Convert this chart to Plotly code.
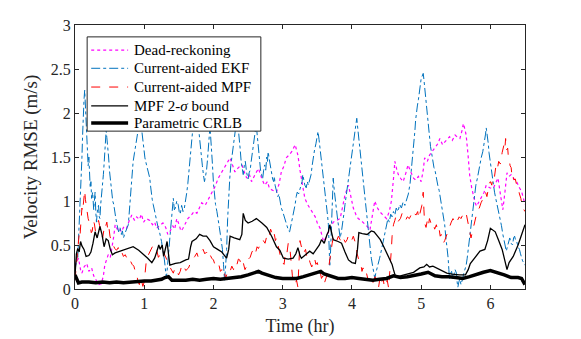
import plotly.graph_objects as go

# Dead-reckoning (magenta, dotted)
t_dr = [0, 0.03, 0.05, 0.08, 0.1, 0.13, 0.17, 0.2, 0.24, 0.27, 0.31, 0.34, 0.38, 0.41, 0.43, 0.46, 0.48, 0.51, 0.53, 0.56,
        0.58, 0.61, 0.63, 0.67, 0.7, 0.74, 0.77, 0.8, 0.82, 0.86, 0.89, 0.93, 0.96, 0.99, 1.03, 1.08, 1.12, 1.15, 1.18, 1.22,
        1.27, 1.31, 1.34, 1.37, 1.41, 1.44, 1.47, 1.5, 1.53, 1.56, 1.59, 1.63, 1.68, 1.72, 1.76, 1.8, 1.83, 1.88, 1.93, 1.98,
        2.02, 2.07, 2.12, 2.17, 2.21, 2.24, 2.28, 2.31, 2.36, 2.41, 2.45, 2.48, 2.52, 2.55, 2.6, 2.65, 2.7, 2.74, 2.78, 2.81,
        2.86, 2.91, 2.95, 2.98, 3.02, 3.05, 3.09, 3.13, 3.18, 3.22, 3.25, 3.29, 3.32, 3.36, 3.39, 3.43, 3.47, 3.5, 3.54, 3.57,
        3.59, 3.62, 3.66, 3.7, 3.73, 3.78, 3.83, 3.87, 3.9, 3.95, 3.98, 4.02, 4.06, 4.09, 4.13, 4.16, 4.21, 4.26, 4.3, 4.33,
        4.37, 4.4, 4.45, 4.5, 4.54, 4.57, 4.6, 4.62, 4.65, 4.67, 4.71, 4.74, 4.78, 4.81, 4.85, 4.89, 4.92, 4.96, 5.0, 5.03,
        5.05, 5.09, 5.12, 5.16, 5.2, 5.24, 5.27, 5.31, 5.34, 5.38, 5.41, 5.45, 5.49, 5.53, 5.56, 5.59, 5.61, 5.63, 5.65, 5.68,
        5.7, 5.73, 5.75, 5.78, 5.8, 5.84, 5.87, 5.91, 5.94, 5.99, 6.04, 6.08, 6.11, 6.15, 6.18, 6.21, 6.24, 6.27, 6.3, 6.34,
        6.38, 6.42, 6.45, 6.48, 6.5]
v_dr = [0.26, 0.32, 0.35, 0.22, 0.18, 0.25, 0.29, 0.20, 0.24, 0.15, 0.10, 0.05, 0.06, 0.15, 0.27, 0.33, 0.39, 0.36, 0.45, 0.60,
        0.73, 0.68, 0.70, 0.65, 0.70, 0.68, 0.75, 0.80, 0.84, 0.78, 0.82, 0.79, 0.85, 0.76, 0.80, 0.78, 0.73, 0.76, 0.69, 0.72,
        0.75, 0.70, 0.62, 0.65, 0.72, 0.68, 0.80, 0.74, 0.66, 0.69, 0.73, 0.80, 0.84, 0.88, 0.86, 0.94, 0.98, 0.95, 1.03, 1.10,
        1.16, 1.26, 1.33, 1.41, 1.45, 1.49, 1.40, 1.33, 1.38, 1.41, 1.32, 1.26, 1.30, 1.22, 1.30, 1.37, 1.25, 1.18, 1.22, 1.14,
        1.12, 1.10, 1.20, 1.33, 1.40, 1.49, 1.52, 1.56, 1.64, 1.52, 1.35, 1.18, 1.03, 0.96, 0.92, 0.86, 0.82, 0.75, 0.69, 0.60,
        0.54, 0.58, 0.65, 0.72, 0.76, 0.78, 0.80, 0.95, 1.07, 1.18, 1.05, 0.92, 0.84, 0.80, 0.78, 0.76, 0.72, 0.67, 0.85, 1.00,
        0.92, 0.88, 0.84, 0.80, 0.88, 1.00, 1.25, 1.45, 1.35, 1.30, 1.25, 1.22, 1.32, 1.41, 1.33, 1.26, 1.24, 1.28, 1.22, 1.35,
        1.49, 1.45, 1.52, 1.56, 1.60, 1.65, 1.71, 1.64, 1.67, 1.70, 1.73, 1.69, 1.75, 1.72, 1.71, 1.80, 1.88, 1.82, 1.75, 1.50,
        1.30, 1.15, 1.07, 0.98, 0.94, 1.00, 1.03, 1.10, 1.18, 1.15, 1.14, 1.20, 1.26, 1.05, 0.90, 1.10, 1.32, 1.28, 1.30, 1.25,
        1.22, 1.15, 1.11, 1.02, 0.96]

# Current-aided EKF (blue, dash-dot)
t_ekf = [0, 0.02, 0.03, 0.04, 0.05, 0.065, 0.08, 0.09, 0.1, 0.11, 0.12, 0.13, 0.14, 0.15, 0.16, 0.175, 0.19, 0.2, 0.21, 0.22,
         0.23, 0.24, 0.255, 0.27, 0.28, 0.29, 0.3, 0.31, 0.325, 0.34, 0.35, 0.36, 0.37, 0.38, 0.395, 0.41, 0.42, 0.43, 0.44, 0.45,
         0.46, 0.47, 0.485, 0.5, 0.515, 0.53, 0.545, 0.56, 0.575, 0.59, 0.61, 0.63, 0.65, 0.67, 0.685, 0.7, 0.72, 0.74, 0.755, 0.77,
         0.785, 0.8, 0.81, 0.82, 0.84, 0.86, 0.875, 0.89, 0.905, 0.92, 0.935, 0.95, 0.965, 0.98, 0.995, 1.01, 1.03, 1.05, 1.065, 1.08,
         1.09, 1.1, 1.115, 1.13, 1.145, 1.16, 1.17, 1.18, 1.2, 1.22, 1.235, 1.25, 1.265, 1.28, 1.29, 1.3, 1.31, 1.32, 1.335, 1.35,
         1.36, 1.37, 1.385, 1.4, 1.41, 1.42, 1.435, 1.45, 1.47, 1.49, 1.505, 1.52, 1.54, 1.56, 1.58, 1.6, 1.615, 1.63, 1.645, 1.66,
         1.675, 1.69, 1.705, 1.72, 1.735, 1.75, 1.765, 1.78, 1.795, 1.81, 1.825, 1.84, 1.855, 1.87, 1.885, 1.9, 1.915, 1.93, 1.94, 1.95,
         1.96, 1.97, 1.985, 2.0, 2.015, 2.03, 2.05, 2.07, 2.085, 2.1, 2.115, 2.13, 2.145, 2.16, 2.175, 2.19, 2.205, 2.22, 2.235, 2.25,
         2.265, 2.28, 2.295, 2.31, 2.325, 2.34, 2.355, 2.37, 2.385, 2.4, 2.415, 2.43, 2.445, 2.46, 2.48, 2.5, 2.515, 2.53, 2.545, 2.56,
         2.575, 2.59, 2.605, 2.62, 2.635, 2.65, 2.665, 2.68, 2.695, 2.71, 2.725, 2.74, 2.755, 2.77, 2.78, 2.79, 2.805, 2.82, 2.83, 2.84,
         2.855, 2.87, 2.88, 2.89, 2.91, 2.93, 2.945, 2.96, 2.98, 3.0, 3.015, 3.03, 3.05, 3.07, 3.085, 3.1, 3.12, 3.14, 3.16, 3.18,
         3.195, 3.21, 3.23, 3.25, 3.265, 3.28, 3.29, 3.3, 3.32, 3.34, 3.355, 3.37, 3.39, 3.41, 3.425, 3.44, 3.46, 3.48, 3.495, 3.51,
         3.525, 3.54, 3.55, 3.56, 3.575, 3.59, 3.6, 3.61, 3.625, 3.64, 3.65, 3.66, 3.67, 3.68, 3.69, 3.7, 3.715, 3.73, 3.745, 3.76,
         3.77, 3.78, 3.795, 3.81, 3.82, 3.83, 3.85, 3.87, 3.885, 3.9, 3.92, 3.94, 3.955, 3.97, 3.985, 4.0, 4.01, 4.02, 4.035, 4.05,
         4.06, 4.07, 4.085, 4.1, 4.12, 4.14, 4.155, 4.17, 4.19, 4.21, 4.225, 4.24, 4.26, 4.28, 4.295, 4.31, 4.32, 4.33, 4.345, 4.36,
         4.38, 4.4, 4.42, 4.44, 4.46, 4.48, 4.5, 4.52, 4.54, 4.56, 4.58, 4.6, 4.62, 4.64, 4.665, 4.69, 4.715, 4.74, 4.765, 4.79,
         4.815, 4.84, 4.86, 4.88, 4.895, 4.91, 4.92, 4.93, 4.945, 4.96, 4.97, 4.98, 4.99, 5.0, 5.015, 5.03, 5.04, 5.05, 5.065, 5.08,
         5.09, 5.1, 5.11, 5.12, 5.135, 5.15, 5.16, 5.17, 5.185, 5.2, 5.21, 5.22, 5.24, 5.26, 5.275, 5.29, 5.305, 5.32, 5.33, 5.34,
         5.355, 5.37, 5.38, 5.39, 5.4, 5.41, 5.425, 5.44, 5.455, 5.47, 5.49, 5.51, 5.52, 5.53, 5.545, 5.56, 5.575, 5.59, 5.6, 5.61,
         5.63, 5.65, 5.665, 5.68, 5.69, 5.7, 5.72, 5.74, 5.755, 5.77, 5.79, 5.81, 5.83, 5.85, 5.87, 5.89, 5.905, 5.92, 5.93, 5.94,
         5.955, 5.97, 5.98, 5.99, 6.01, 6.03, 6.045, 6.06, 6.08, 6.1, 6.12, 6.14, 6.16, 6.18, 6.195, 6.21, 6.22, 6.23, 6.245, 6.26,
         6.27, 6.28, 6.3, 6.32, 6.335, 6.35, 6.365, 6.38, 6.4, 6.42, 6.435, 6.45, 6.465, 6.48, 6.5]
v_ekf = [0.20, 0.32, 0.40, 0.36, 0.54, 0.75, 1.00, 1.25, 1.49, 1.75, 2.05, 2.15, 2.26, 2.10, 1.90, 1.60, 1.40, 1.50, 1.25, 1.15,
         1.22, 1.03, 1.10, 0.90, 1.00, 1.10, 0.88, 0.76, 0.90, 0.95, 0.82, 0.80, 0.95, 1.07, 1.15, 1.30, 1.42, 1.55, 1.68, 1.80,
         1.72, 1.65, 1.50, 1.33, 1.20, 1.10, 1.00, 0.96, 0.86, 0.80, 0.72, 0.65, 0.70, 0.62, 0.66, 0.58, 0.63, 0.66, 0.70, 0.73,
         0.88, 1.05, 1.20, 1.33, 1.45, 1.55, 1.62, 1.68, 1.78, 1.85, 1.92, 1.90, 1.80, 1.70, 1.58, 1.49, 1.42, 1.35, 1.30, 1.26,
         1.18, 1.10, 1.02, 0.96, 0.90, 0.85, 0.80, 0.76, 0.70, 0.65, 0.60, 0.54, 0.46, 0.40, 0.34, 0.27, 0.20, 0.12, 0.25, 0.35,
         0.48, 0.58, 0.72, 0.85, 0.95, 1.03, 0.90, 0.92, 1.00, 0.96, 0.88, 0.85, 0.95, 0.88, 0.92, 1.00, 1.10, 1.20, 1.35, 1.50,
         1.62, 1.75, 1.85, 1.95, 2.00, 2.05, 1.98, 1.90, 1.75, 1.60, 1.50, 1.40, 1.30, 1.22, 1.28, 1.35, 1.48, 1.60, 1.75, 1.85,
         1.75, 1.65, 1.42, 1.20, 1.05, 0.96, 0.88, 0.80, 0.70, 0.62, 0.55, 0.45, 0.28, 0.10, 0.25, 0.45, 0.80, 1.10, 1.25, 1.40,
         1.50, 1.60, 1.70, 1.80, 1.88, 1.95, 1.85, 1.75, 1.60, 1.45, 1.38, 1.30, 1.40, 1.45, 1.32, 1.25, 1.32, 1.35, 1.45, 1.55,
         1.66, 1.75, 1.80, 1.85, 1.72, 1.60, 1.48, 1.35, 1.30, 1.25, 1.35, 1.41, 1.35, 1.50, 1.45, 1.56, 1.48, 1.40, 1.36, 1.33,
         1.25, 1.22, 1.28, 1.18, 1.10, 1.05, 1.08, 1.00, 0.92, 0.88, 0.84, 0.80, 0.74, 0.70, 0.66, 0.65, 0.72, 0.80, 0.88, 0.96,
         1.05, 1.10, 1.08, 1.14, 1.20, 1.22, 1.30, 1.26, 1.18, 1.15, 1.22, 1.18, 1.25, 1.30, 1.40, 1.49, 1.58, 1.65, 1.72, 1.79,
         1.70, 1.60, 1.55, 1.49, 1.38, 1.25, 1.18, 1.10, 1.00, 0.90, 0.82, 0.73, 0.50, 0.27, 0.40, 0.60, 0.95, 1.26, 1.12, 1.00,
         0.94, 0.88, 0.78, 0.70, 0.64, 0.58, 0.66, 0.75, 0.86, 0.96, 1.08, 1.20, 1.28, 1.37, 1.46, 1.55, 1.60, 1.64, 1.72, 1.80,
         1.88, 1.94, 1.82, 1.70, 1.55, 1.41, 1.28, 1.15, 1.02, 0.88, 0.76, 0.65, 0.50, 0.35, 0.28, 0.20, 0.15, 0.12, 0.18, 0.22,
         0.28, 0.35, 0.42, 0.50, 0.58, 0.65, 0.72, 0.80, 0.76, 0.85, 0.82, 0.88, 0.84, 0.92, 0.88, 0.96, 0.92, 0.99, 0.95, 1.03,
         1.08, 1.20, 1.35, 1.50, 1.65, 1.80, 1.92, 2.02, 2.08, 2.15, 2.22, 2.30, 2.35, 2.39, 2.42, 2.45, 2.38, 2.30, 2.15, 2.02,
         1.92, 1.85, 1.78, 1.75, 1.62, 1.55, 1.48, 1.41, 1.38, 1.35, 1.30, 1.26, 1.18, 1.12, 1.05, 1.00, 0.92, 0.85, 0.78, 0.73,
         0.60, 0.50, 0.42, 0.35, 0.22, 0.12, 0.18, 0.20, 0.12, 0.15, 0.22, 0.18, 0.08, 0.02, 0.08, 0.12, 0.05, 0.08, 0.12, 0.16,
         0.22, 0.27, 0.35, 0.45, 0.55, 0.65, 0.78, 0.90, 1.00, 1.10, 1.18, 1.25, 1.35, 1.41, 1.50, 1.56, 1.62, 1.70, 1.76, 1.83,
         1.75, 1.65, 1.55, 1.49, 1.40, 1.30, 1.20, 1.10, 1.02, 0.95, 0.88, 0.80, 0.72, 0.62, 0.55, 0.50, 0.45, 0.43, 0.48, 0.52,
         0.56, 0.58, 0.52, 0.50, 0.58, 0.60, 0.55, 0.54, 0.48, 0.45, 0.40, 0.35, 0.32, 0.30, 0.27]

# Current-aided MPF (red, dashed)
t_mpf = [0, 0.02, 0.03, 0.045, 0.06, 0.07, 0.08, 0.09, 0.1, 0.11, 0.12, 0.13, 0.14, 0.15, 0.16, 0.175, 0.19, 0.205, 0.22, 0.235,
         0.25, 0.265, 0.28, 0.295, 0.31, 0.325, 0.34, 0.355, 0.37, 0.385, 0.4, 0.415, 0.43, 0.445, 0.46, 0.475, 0.49, 0.505, 0.52, 0.535,
         0.55, 0.575, 0.6, 0.625, 0.65, 0.675, 0.7, 0.725, 0.75, 0.775, 0.8, 0.825, 0.85, 0.87, 0.89, 0.91, 0.93, 0.945, 0.96, 0.98,
         1.0, 1.015, 1.03, 1.055, 1.08, 1.105, 1.13, 1.155, 1.18, 1.205, 1.23, 1.255, 1.28, 1.3, 1.32, 1.345, 1.37, 1.395, 1.42, 1.445,
         1.47, 1.495, 1.52, 1.545, 1.57, 1.6, 1.64, 1.67, 1.7, 1.73, 1.76, 1.78, 1.8, 1.825, 1.85, 1.875, 1.9, 1.925, 1.95, 1.975,
         2.0, 2.02, 2.04, 2.06, 2.08, 2.1, 2.12, 2.14, 2.16, 2.175, 2.19, 2.215, 2.24, 2.265, 2.29, 2.315, 2.34, 2.36, 2.38, 2.405,
         2.43, 2.455, 2.48, 2.505, 2.53, 2.555, 2.58, 2.605, 2.63, 2.65, 2.67, 2.695, 2.72, 2.745, 2.77, 2.79, 2.81, 2.825, 2.84, 2.86,
         2.88, 2.895, 2.91, 2.93, 2.95, 2.965, 2.98, 3.0, 3.02, 3.04, 3.06, 3.08, 3.1, 3.12, 3.14, 3.16, 3.18, 3.2, 3.22, 3.235,
         3.25, 3.27, 3.29, 3.31, 3.33, 3.35, 3.37, 3.395, 3.42, 3.44, 3.46, 3.48, 3.5, 3.52, 3.54, 3.56, 3.58, 3.6, 3.62, 3.64,
         3.66, 3.68, 3.7, 3.715, 3.73, 3.755, 3.78, 3.805, 3.83, 3.855, 3.88, 3.905, 3.93, 3.95, 3.97, 3.995, 4.02, 4.04, 4.06, 4.075,
         4.09, 4.11, 4.13, 4.145, 4.16, 4.185, 4.21, 4.235, 4.26, 4.285, 4.31, 4.335, 4.36, 4.385, 4.41, 4.43, 4.45, 4.47, 4.49, 4.51,
         4.53, 4.545, 4.56, 4.57, 4.58, 4.6, 4.62, 4.64, 4.67, 4.7, 4.725, 4.75, 4.775, 4.8, 4.83, 4.86, 4.88, 4.9, 4.925, 4.95,
         4.965, 4.98, 4.995, 5.01, 5.02, 5.03, 5.04, 5.05, 5.07, 5.09, 5.105, 5.12, 5.145, 5.17, 5.195, 5.22, 5.24, 5.26, 5.275, 5.29,
         5.305, 5.32, 5.34, 5.36, 5.385, 5.41, 5.435, 5.46, 5.48, 5.5, 5.525, 5.55, 5.575, 5.6, 5.625, 5.65, 5.665, 5.68, 5.7, 5.72,
         5.74, 5.76, 5.78, 5.8, 5.82, 5.84, 5.865, 5.89, 5.91, 5.93, 5.95, 5.97, 5.985, 6.0, 6.02, 6.04, 6.06, 6.08, 6.1, 6.12,
         6.145, 6.17, 6.185, 6.2, 6.21, 6.22, 6.235, 6.25, 6.26, 6.27, 6.285, 6.3, 6.31, 6.32, 6.34, 6.36, 6.38, 6.4, 6.42, 6.44,
         6.455, 6.47, 6.485, 6.5]
v_mpf = [0.10, 0.28, 0.35, 0.52, 0.62, 0.58, 0.70, 0.85, 0.92, 0.88, 0.98, 1.05, 1.12, 1.02, 0.95, 0.86, 0.80, 0.76, 0.72, 0.64,
         0.66, 0.78, 0.74, 0.66, 0.70, 0.76, 0.78, 0.72, 0.68, 0.62, 0.58, 0.66, 0.64, 0.72, 0.76, 0.66, 0.70, 0.60, 0.55, 0.52,
         0.50, 0.46, 0.44, 0.47, 0.40, 0.42, 0.37, 0.39, 0.35, 0.30, 0.32, 0.28, 0.26, 0.20, 0.18, 0.08, 0.05, 0.12, 0.10, 0.03,
         0.08, 0.20, 0.32, 0.38, 0.42, 0.47, 0.50, 0.45, 0.44, 0.36, 0.39, 0.45, 0.42, 0.38, 0.35, 0.30, 0.25, 0.22, 0.18, 0.24,
         0.22, 0.16, 0.20, 0.28, 0.26, 0.21, 0.24, 0.30, 0.33, 0.37, 0.41, 0.36, 0.38, 0.43, 0.45, 0.40, 0.42, 0.36, 0.39, 0.35,
         0.33, 0.28, 0.30, 0.26, 0.27, 0.20, 0.22, 0.15, 0.18, 0.12, 0.16, 0.22, 0.20, 0.26, 0.22, 0.30, 0.28, 0.34, 0.33, 0.26,
         0.30, 0.22, 0.26, 0.34, 0.36, 0.42, 0.45, 0.40, 0.48, 0.46, 0.50, 0.56, 0.55, 0.52, 0.60, 0.57, 0.62, 0.68, 0.65, 0.58,
         0.62, 0.55, 0.58, 0.50, 0.45, 0.38, 0.37, 0.30, 0.28, 0.42, 0.40, 0.52, 0.50, 0.30, 0.15, 0.08, 0.05, 0.10, 0.02, 0.30,
         0.55, 0.48, 0.50, 0.42, 0.45, 0.36, 0.38, 0.30, 0.25, 0.32, 0.35, 0.28, 0.30, 0.22, 0.20, 0.12, 0.15, 0.06, 0.10, 0.16,
         0.22, 0.35, 0.45, 0.52, 0.58, 0.52, 0.55, 0.60, 0.56, 0.52, 0.57, 0.53, 0.56, 0.61, 0.58, 0.55, 0.60, 0.56, 0.50, 0.40,
         0.35, 0.30, 0.28, 0.20, 0.24, 0.16, 0.18, 0.10, 0.12, 0.05, 0.08, 0.14, 0.05, 0.02, 0.15, 0.08, 0.12, 0.02, 0.04, 0.10,
         0.01, 0.15, 0.30, 0.45, 0.60, 0.73, 0.78, 0.84, 0.77, 0.80, 0.86, 0.83, 0.78, 0.82, 0.80, 0.85, 0.82, 0.86, 0.84, 0.88,
         0.80, 0.84, 0.90, 0.95, 1.05, 1.10, 0.90, 0.75, 0.70, 0.78, 0.72, 0.80, 0.74, 0.76, 0.68, 0.73, 0.65, 0.68, 0.60, 0.62,
         0.55, 0.52, 0.55, 0.60, 0.66, 0.72, 0.76, 0.80, 0.77, 0.81, 0.78, 0.82, 0.80, 0.84, 0.82, 0.86, 0.80, 0.73, 0.62, 0.58,
         0.65, 0.72, 0.80, 0.85, 0.90, 0.92, 0.98, 1.02, 1.08, 1.10, 1.05, 1.15, 1.20, 1.22, 1.18, 1.30, 1.28, 1.40, 1.36, 1.45,
         1.42, 1.55, 1.62, 1.65, 1.60, 1.71, 1.58, 1.60, 1.50, 1.48, 1.40, 1.38, 1.30, 1.32, 1.24, 1.25, 1.18, 1.15, 1.08, 1.03,
         0.96, 0.92, 0.90, 0.88]

# MPF 2-sigma bound (thin black)
t_bnd = [0, 0.02, 0.04, 0.06, 0.08, 0.1, 0.13, 0.16, 0.2, 0.23, 0.26, 0.29, 0.32, 0.36, 0.39, 0.42, 0.45, 0.48, 0.51, 0.54,
         0.58, 0.65, 0.75, 0.84, 0.92, 1.0, 1.05, 1.11, 1.15, 1.18, 1.21, 1.23, 1.26, 1.28, 1.31, 1.33, 1.35, 1.37, 1.45, 1.52,
         1.6, 1.64, 1.67, 1.69, 1.75, 1.8, 1.85, 1.9, 1.95, 2.0, 2.06, 2.12, 2.16, 2.19, 2.22, 2.24, 2.3, 2.38, 2.41, 2.43,
         2.46, 2.5, 2.56, 2.62, 2.7, 2.77, 2.84, 2.91, 2.96, 3.01, 3.08, 3.15, 3.19, 3.22, 3.25, 3.27, 3.33, 3.39, 3.44, 3.49,
         3.53, 3.56, 3.6, 3.64, 3.66, 3.68, 3.71, 3.73, 3.8, 3.85, 3.9, 3.95, 4.0, 4.05, 4.08, 4.1, 4.15, 4.22, 4.28, 4.32,
         4.37, 4.41, 4.46, 4.51, 4.55, 4.58, 4.6, 4.63, 4.7, 4.8, 4.89, 4.98, 5.04, 5.08, 5.12, 5.17, 5.22, 5.3, 5.37, 5.45,
         5.55, 5.64, 5.68, 5.71, 5.78, 5.85, 5.92, 5.96, 6.0, 6.03, 6.07, 6.12, 6.17, 6.21, 6.24, 6.27, 6.33, 6.4, 6.45, 6.5]
v_bnd = [0.15, 0.40, 0.46, 0.42, 0.54, 0.49, 0.45, 0.37, 0.38, 0.42, 0.52, 0.65, 0.58, 0.71, 0.62, 0.48, 0.57, 0.55, 0.45, 0.39,
         0.41, 0.43, 0.46, 0.48, 0.44, 0.39, 0.35, 0.30, 0.35, 0.42, 0.50, 0.45, 0.50, 0.37, 0.48, 0.54, 0.40, 0.27, 0.29, 0.30,
         0.33, 0.34, 0.48, 0.54, 0.57, 0.62, 0.60, 0.60, 0.55, 0.48, 0.45, 0.42, 0.38, 0.35, 0.45, 0.60, 0.58, 0.56, 0.62, 0.86,
         0.78, 0.75, 0.77, 0.80, 0.75, 0.70, 0.60, 0.48, 0.44, 0.35, 0.34, 0.35, 0.40, 0.47, 0.38, 0.35, 0.39, 0.43, 0.40, 0.45,
         0.50, 0.56, 0.52, 0.62, 0.65, 0.73, 0.62, 0.56, 0.54, 0.52, 0.42, 0.33, 0.30, 0.29, 0.45, 0.64, 0.63, 0.62, 0.66, 0.65,
         0.60, 0.56, 0.48, 0.39, 0.33, 0.28, 0.22, 0.14, 0.15, 0.17, 0.19, 0.24, 0.25, 0.28, 0.25, 0.26, 0.24, 0.21, 0.18, 0.17,
         0.16, 0.16, 0.22, 0.29, 0.36, 0.43, 0.45, 0.55, 0.69, 0.67, 0.65, 0.55, 0.45, 0.32, 0.22, 0.30, 0.37, 0.50, 0.62, 0.73]

# Parametric CRLB (thick black)
t_crlb = [0, 0.02, 0.05, 0.1, 0.2, 0.3, 0.4, 0.5, 0.6, 0.7, 0.8, 0.9, 1.0, 1.1, 1.2, 1.25, 1.3, 1.35, 1.4, 1.5,
          1.6, 1.7, 1.8, 1.9, 2.0, 2.1, 2.2, 2.3, 2.4, 2.5, 2.6, 2.65, 2.7, 2.8, 2.9, 3.0, 3.1, 3.2, 3.3, 3.4,
          3.5, 3.55, 3.6, 3.7, 3.8, 3.9, 4.0, 4.1, 4.2, 4.3, 4.4, 4.5, 4.6, 4.7, 4.8, 4.9, 5.0, 5.1, 5.2, 5.3,
          5.4, 5.5, 5.6, 5.7, 5.8, 5.9, 6.0, 6.1, 6.2, 6.3, 6.4, 6.45, 6.5]
v_crlb = [0.16, 0.12, 0.07, 0.08, 0.08, 0.07, 0.08, 0.07, 0.08, 0.07, 0.08, 0.08, 0.09, 0.09, 0.10, 0.11, 0.13, 0.14, 0.10, 0.10,
          0.10, 0.11, 0.10, 0.11, 0.12, 0.11, 0.12, 0.13, 0.14, 0.16, 0.19, 0.20, 0.18, 0.15, 0.13, 0.12, 0.12, 0.12, 0.14, 0.16,
          0.19, 0.20, 0.17, 0.14, 0.12, 0.12, 0.13, 0.12, 0.11, 0.10, 0.11, 0.12, 0.15, 0.13, 0.14, 0.15, 0.17, 0.19, 0.15, 0.14,
          0.14, 0.13, 0.12, 0.14, 0.17, 0.19, 0.21, 0.19, 0.16, 0.13, 0.13, 0.12, 0.05]

x_ticks = [0, 1, 2, 3, 4, 5, 6]
y_ticks = [0, 0.5, 1, 1.5, 2, 2.5, 3]

SERIF = "Times New Roman, Liberation Serif, DejaVu Serif, serif"

series = [
    (t_dr, v_dr, "Dead-reckoning", dict(color="#FF00FF", width=1.2, dash="dot")),
    (t_ekf, v_ekf, "Current-aided EKF", dict(color="#0072BD", width=1, dash="dashdot")),
    (t_mpf, v_mpf, "Current-aided MPF", dict(color="#FF0000", width=1, dash="dash")),
    (t_bnd, v_bnd, "MPF 2-<i>σ</i> bound", dict(color="black", width=1.3)),
    (t_crlb, v_crlb, "Parametric CRLB", dict(color="black", width=3.5)),
]

fig = go.Figure()
for t, v, name, line in series:
    fig.add_trace(go.Scatter(x=t, y=v, mode="lines", name=name, line=line, showlegend=False))

# hand-made legend (plotly's own rows are too far apart for this look)
fig.add_shape(type="rect", xref="paper", yref="paper", x0=0.027, x1=0.413, y0=0.598, y1=0.955,
              fillcolor="white", line=dict(color="#262626", width=1), layer="above")
row_y = [0.905, 0.836, 0.765, 0.694, 0.629]
for (t, v, name, line), ry in zip(series, row_y):
    fig.add_shape(type="line", xref="paper", yref="paper", x0=0.036, x1=0.118, y0=ry, y1=ry,
                  line=line, layer="above")
    fig.add_annotation(xref="paper", yref="paper", x=0.127, y=ry, text=name, showarrow=False,
                       xanchor="left", yanchor="middle", font=dict(family=SERIF, size=15, color="black"))

axis_common = dict(showline=True, linecolor="#262626", linewidth=1, mirror="ticks",
                   ticks="inside", ticklen=4, tickcolor="#262626", showgrid=False, zeroline=False,
                   automargin=False, tickfont=dict(family=SERIF, size=16, color="#262626"))

# page body adds 8px, so the margins are 8px smaller than in the picture
fig.update_layout(
    width=573, height=331,
    margin=dict(l=67, r=56, t=17, b=50),
    paper_bgcolor="white", plot_bgcolor="white",
    font=dict(family=SERIF, color="#262626"),
    xaxis=dict(range=[0, 6.5], tickvals=x_ticks,
               title=dict(text="Time (hr)", font=dict(family=SERIF, size=18), standoff=8),
               **axis_common),
    yaxis=dict(range=[0, 3], tickvals=y_ticks,
               title=dict(text="Velocity RMSE (m/s)", font=dict(family=SERIF, size=19), standoff=8),
               **axis_common),
    showlegend=False,
)

fig.write_html("out.html")
